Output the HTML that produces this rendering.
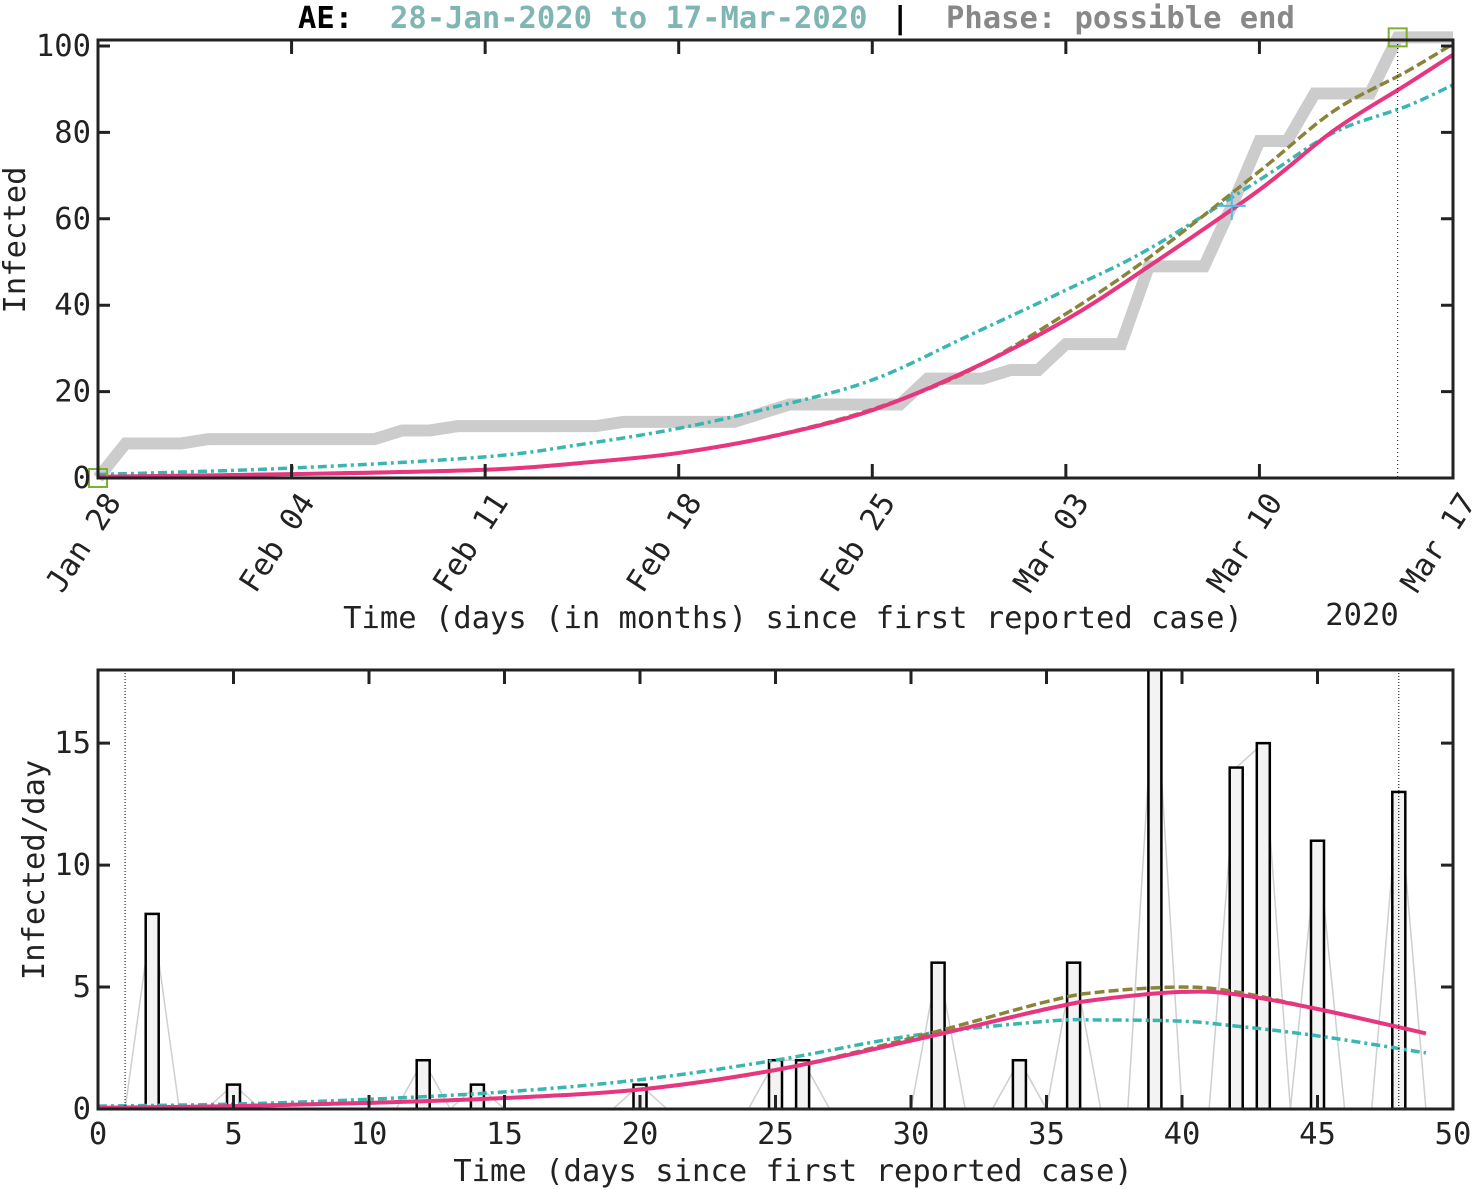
<!DOCTYPE html>
<html><head><meta charset="utf-8"><style>
html,body{margin:0;padding:0;background:#fff;}
svg{display:block;font-family:"DejaVu Sans Mono","Liberation Mono",monospace;}
</style></head><body>
<svg id="c" width="1475" height="1190" viewBox="0 0 1475 1190" xmlns="http://www.w3.org/2000/svg"></svg>
<script>
// ---- data ----
const dateLabels = ["Jan 28","Feb 04","Feb 11","Feb 18","Feb 25","Mar 03","Mar 10","Mar 17"];
const dailyDays = [2,5,12,14,20,25,26,31,34,36,39,42,43,45,48];
const dailyCases = [8,1,2,1,1,2,2,6,2,6,18,14,15,11,13];
const fitDays = [0,7,14,17.5,21,24.5,28,31.5,35,38,42,44.7,47.3,49];
const fitPink = [0.3,0.9,1.9,3.5,5.8,9.8,15.7,25,36.6,49,66.7,80.5,91,98];
const fitOlive = [0.3,0.9,1.9,3.5,5.8,9.9,15.9,24.8,38,51,71,85,94,100.5];
const fitCyan = [0.8,2.3,4.9,7.8,11.5,16.5,22.7,33,43.5,53,69,80,86,91];
const rateDays = [0,5,10,15,20,25,30,35,37,40,42,45,49];
const ratePink = [0.05,0.12,0.25,0.45,0.8,1.6,2.8,4.1,4.5,4.8,4.7,4.1,3.1];
const rateOlive = [0.05,0.12,0.25,0.45,0.8,1.6,2.9,4.4,4.8,5.0,4.8,4.1,3.1];
const rateCyan = [0.12,0.2,0.4,0.7,1.2,2.0,3.0,3.6,3.65,3.6,3.4,3.0,2.3];
const topYTicks = [0,20,40,60,80,100];
const botYTicks = [0,5,10,15];
const botXTicks = [0,5,10,15,20,25,30,35,40,45,50];

// ---- axes ----
const T={x0:98,x1:1453,y0:478,y1:40};
const tx=d=>T.x0+d*(T.x1-T.x0)/49;
const ty=v=>T.y0-v*4.32;
const B={x0:98,x1:1453,y0:1109,y1:670};
const bx=d=>B.x0+d*(B.x1-B.x0)/50;
const by=v=>B.y0-v*(B.y0-B.y1)/18;
const FS=30.5;

const svg=document.getElementById('c');
const NS="http://www.w3.org/2000/svg";
function mk(tag,attrs,parent){const e=document.createElementNS(NS,tag);for(const k in attrs)e.setAttribute(k,attrs[k]);(parent||svg).appendChild(e);return e;}
function smooth(pts){let d=`M${pts[0][0]},${pts[0][1]}`;for(let i=0;i<pts.length-1;i++){const p0=pts[i-1]||pts[i],p1=pts[i],p2=pts[i+1],p3=pts[i+2]||p2;d+=` C${p1[0]+(p2[0]-p0[0])/6},${p1[1]+(p2[1]-p0[1])/6} ${p2[0]-(p3[0]-p1[0])/6},${p2[1]-(p3[1]-p1[1])/6} ${p2[0]},${p2[1]}`;}return d;}

// title
let t=mk('text',{x:298,y:28,'font-size':FS,'font-weight':'bold',fill:'#000'});t.textContent='AE:';

t=mk('text',{x:390,y:28,'font-size':FS,'font-weight':'bold',fill:'#7fb5b2','xml:space':'preserve'});t.textContent='28-Jan-2020 to  17-Mar-2020';

t=mk('text',{x:891,y:28,'font-size':FS,'font-weight':'bold',fill:'#000'});t.textContent='|';

t=mk('text',{x:946,y:28,'font-size':FS,'font-weight':'bold',fill:'#888'});t.textContent='Phase: possible end';


// ===== TOP CHART =====
const cum=[];let run=0;
for(let d=0;d<=49;d++){const i=dailyDays.indexOf(d+1);if(i>=0&&d>0)run+=dailyCases[i];cum.push(run);}
cum[0]=0;
let g=mk('path',{d:'M'+cum.map((v,d)=>`${tx(d)},${ty(v)}`).join(' L'),fill:'none',stroke:'#cccccc','stroke-width':12,'stroke-linejoin':'miter'});

const fits=[[fitCyan,'#3ab6b2','9 4 3 4','fit-cyan'],[fitOlive,'#8a843a','10 4','fit-olive'],[fitPink,'#e8357f',null,'fit-pink']];
fits.forEach(([arr,col,dash,name])=>{const p=mk('path',{d:smooth(fitDays.map((d,i)=>[tx(d),ty(arr[i])])),fill:'none',stroke:col,'stroke-width':name==='fit-pink'?4:3.5});if(dash)p.setAttribute('stroke-dasharray',dash);
});
g=mk('line',{x1:tx(47),x2:tx(47),y1:T.y1,y2:T.y0,stroke:'#000','stroke-width':1,'stroke-dasharray':'1 3'});

[[0,cum[0]],[47,cum[47]]].forEach(([d,v],i)=>{const r=mk('rect',{x:tx(d)-9,y:ty(v)-9,width:18,height:18,fill:'none',stroke:'#7cb030','stroke-width':2});
});
g=mk('path',{d:`M${tx(41)-14},${ty(63)}h28M${tx(41)},${ty(63)-14}v28`,stroke:'#55b8e8','stroke-width':2});

g=mk('rect',{x:T.x0,y:T.y1,width:T.x1-T.x0,height:T.y0-T.y1,fill:'none',stroke:'#222','stroke-width':3});

topYTicks.forEach(v=>{const y=ty(v);mk('path',{d:`M${T.x0},${y}h12M${T.x1},${y}h-12`,stroke:'#222','stroke-width':3});
const l=mk('text',{x:91,y:y+10,'font-size':FS,'text-anchor':'end',fill:'#222'});l.textContent=v;
});
dateLabels.forEach((s,i)=>{const x=tx(i*7);mk('path',{d:`M${x},${T.y0}v-14M${x},${T.y1}v14`,stroke:'#222','stroke-width':3});
const l=mk('text',{transform:`translate(${x+24},${T.y0+24}) rotate(-57)`,'font-size':FS,'text-anchor':'end',fill:'#222'});l.textContent=s;
});
t=mk('text',{x:793,y:628,'font-size':FS,'text-anchor':'middle',fill:'#222'});t.textContent='Time (days (in months) since first reported case)';

t=mk('text',{x:1362,y:625,'font-size':FS,'text-anchor':'middle',fill:'#222'});t.textContent='2020';

t=mk('text',{transform:'translate(25,240) rotate(-90)','font-size':FS,'text-anchor':'middle',fill:'#222'});t.textContent='Infected';


// ===== BOTTOM CHART =====
const dpts=[];for(let d=1;d<=49;d++){const i=dailyDays.indexOf(d);dpts.push([bx(d),by(i>=0?dailyCases[i]:0)]);}
g=mk('path',{d:'M'+dpts.map(p=>p.join(',')).join(' L'),fill:'none',stroke:'#cfcfcf','stroke-width':1.5});

g=mk('line',{x1:B.x0,x2:B.x1,y1:B.y0,y2:B.y0,stroke:'#000','stroke-width':2.5,'stroke-dasharray':'12 8'});

dailyDays.forEach((d,i)=>{const h=B.y0-by(dailyCases[i]);const r=mk('rect',{x:bx(d)-6.5,y:by(dailyCases[i]),width:13,height:h,fill:'#f3f3f3',stroke:'#000','stroke-width':2.5});
});
[[rateCyan,'#3ab6b2','9 4 3 4','rate-cyan'],[rateOlive,'#8a843a','10 4','rate-olive'],[ratePink,'#e8357f',null,'rate-pink']].forEach(([arr,col,dash,name])=>{
const p=mk('path',{d:smooth(rateDays.map((d,i)=>[bx(d),by(arr[i])])),fill:'none',stroke:col,'stroke-width':name==='rate-pink'?4:3.5});if(dash)p.setAttribute('stroke-dasharray',dash);
});
g=mk('line',{x1:bx(1),x2:bx(1),y1:B.y1,y2:B.y0,stroke:'#000','stroke-width':1,'stroke-dasharray':'1 2'});

g=mk('line',{x1:bx(48),x2:bx(48),y1:B.y1,y2:B.y0,stroke:'#000','stroke-width':1,'stroke-dasharray':'1 2'});

g=mk('rect',{x:B.x0,y:B.y1,width:B.x1-B.x0,height:B.y0-B.y1,fill:'none',stroke:'#222','stroke-width':3});

botYTicks.forEach(v=>{const y=by(v);mk('path',{d:`M${B.x0},${y}h12M${B.x1},${y}h-12`,stroke:'#222','stroke-width':3});
const l=mk('text',{x:91,y:y+10,'font-size':FS,'text-anchor':'end',fill:'#222'});l.textContent=v;
});
botXTicks.forEach(v=>{const x=bx(v);mk('path',{d:`M${x},${B.y0}v-14M${x},${B.y1}v14`,stroke:'#222','stroke-width':3});
const l=mk('text',{x:x,y:1144,'font-size':FS,'text-anchor':'middle',fill:'#222'});l.textContent=v;
});
t=mk('text',{x:793,y:1181,'font-size':FS,'text-anchor':'middle',fill:'#222'});t.textContent='Time (days since first reported case)';

t=mk('text',{transform:'translate(44,870) rotate(-90)','font-size':FS,'text-anchor':'middle',fill:'#222'});t.textContent='Infected/day';

</script>
</body></html>
